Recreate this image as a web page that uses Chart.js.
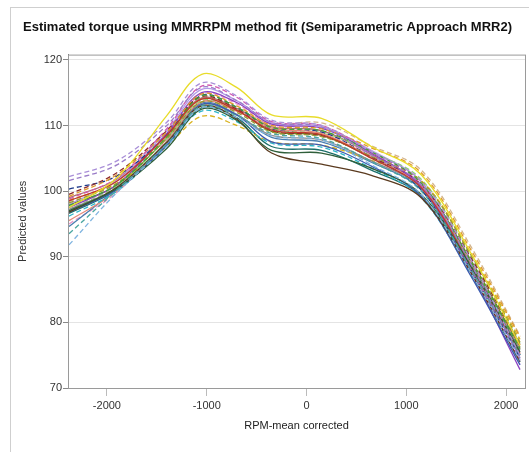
<!DOCTYPE html>
<html lang="en">
<head>
    <meta charset="UTF-8">
    <title>Estimated torque using MMRRPM method fit</title>
    <script src="https://cdn.jsdelivr.net/npm/chart.js"></script>
    <style>
        body {
            margin: 0;
            background: #fff;
            overflow: hidden;
        }
        .frame {
            position: absolute;
            left: 10px;
            top: 7px;
            width: 600px;
            height: 500px;
            border: 1px solid #cfcfcf;
        }
        canvas {
            position: absolute;
            left: 0;
            top: 0;
        }
    </style>
</head>
<body>
<div class="frame"></div>
<canvas id="torqueChart" width="529" height="452"></canvas>

<script>
    // RPM (mean corrected) positions of the fitted points
    const rpm = [-2380, -1900, -1400, -1050, -700, -350, 150, 650, 1150, 1650, 2140];
    const xTicks = [-2000, -1000, 0, 1000, 2000];
    const yTicks = [70, 80, 90, 100, 110, 120];

    // predicted torque per subject
    const fit01 = [97.5, 102.0, 111.5, 117.8, 115.8, 111.6, 111.1, 106.8, 102.5, 90.5, 76.5];
    const fit02 = [102.2, 104.6, 110.5, 116.5, 114.5, 110.8, 110.0, 106.0, 101.5, 89.5, 75.0];
    const fit03 = [101.6, 104.0, 110.0, 115.8, 113.8, 110.5, 109.8, 105.5, 101.0, 88.8, 74.5];
    const fit04 = [91.8, 99.8, 106.8, 112.7, 111.2, 108.4, 107.8, 104.0, 99.5, 87.5, 74.2];
    const fit05 = [93.5, 100.2, 107.2, 113.0, 111.5, 108.8, 108.0, 104.5, 100.0, 88.0, 75.0];
    const fit06 = [97.0, 100.4, 106.5, 112.5, 110.8, 106.2, 105.8, 103.5, 99.5, 88.5, 75.5];
    const fit07 = [96.8, 100.6, 107.4, 113.0, 111.0, 105.8, 104.1, 102.4, 99.0, 87.5, 74.0];
    const fit08 = [96.8, 100.3, 107.0, 113.2, 111.6, 107.5, 107.0, 103.8, 99.2, 87.0, 73.5];
    const fit09 = [98.5, 101.5, 108.5, 114.0, 112.3, 109.3, 108.6, 105.0, 100.5, 88.5, 75.2];
    const fit10 = [97.8, 101.0, 108.3, 114.5, 112.8, 109.7, 109.2, 106.0, 101.2, 89.2, 76.0];
    const fit11 = [98.8, 102.0, 109.5, 116.0, 114.3, 110.6, 110.0, 106.0, 101.0, 88.0, 74.2];
    const fit12 = [99.2, 102.5, 109.0, 114.8, 113.0, 110.0, 109.5, 106.6, 102.8, 91.0, 77.8];
    const fit13 = [98.2, 101.2, 108.0, 113.6, 112.0, 109.0, 108.3, 105.3, 101.5, 90.2, 77.0];
    const fit14 = [97.2, 100.5, 107.5, 113.2, 111.6, 108.5, 107.8, 104.6, 100.5, 88.8, 75.8];
    const fit15 = [97.5, 101.0, 108.8, 115.0, 113.5, 110.2, 109.6, 105.8, 100.6, 87.6, 72.8];
    const fit16 = [96.2, 100.0, 107.0, 112.2, 110.6, 107.3, 106.7, 103.5, 99.0, 87.2, 74.0];
    const fit17 = [99.5, 102.8, 109.2, 114.4, 112.5, 109.2, 108.4, 105.2, 101.0, 89.8, 76.6];
    const fit18 = [95.5, 100.0, 107.6, 113.6, 112.2, 109.6, 108.8, 105.2, 100.8, 89.0, 76.0];
    const fit19 = [100.3, 102.3, 108.6, 114.6, 112.8, 109.5, 109.0, 105.2, 100.2, 87.8, 74.6];
    const fit20 = [98.6, 101.2, 106.8, 111.4, 110.0, 107.5, 107.0, 104.7, 101.6, 90.5, 77.4];
    const fit21 = [97.2, 100.8, 108.0, 113.8, 112.3, 109.4, 108.9, 105.9, 101.8, 90.0, 76.8];
    const fit22 = [94.6, 100.4, 107.4, 113.4, 111.7, 108.2, 107.5, 104.4, 100.2, 88.4, 75.0];
    const fit23 = [98.0, 101.6, 109.2, 115.5, 113.8, 110.4, 109.8, 106.2, 101.4, 88.6, 73.6];
    const fit24 = [99.0, 101.8, 108.6, 114.2, 112.6, 109.8, 109.2, 105.6, 100.8, 88.9, 75.4];
    const fit25 = [96.6, 100.2, 106.9, 112.7, 111.2, 106.8, 106.2, 103.2, 99.2, 88.0, 75.0];
    const fit26 = [98.4, 101.6, 108.4, 114.0, 112.6, 110.2, 110.4, 106.9, 103.2, 91.5, 78.0];
    const fit27 = [95.0, 99.8, 107.8, 114.8, 113.3, 110.0, 109.2, 105.4, 100.4, 88.2, 74.8];
    const fit28 = [97.9, 100.9, 108.1, 114.1, 112.4, 109.1, 108.5, 105.1, 100.9, 89.4, 76.2];

    const fits = [fit01, fit02, fit03, fit04, fit05, fit06, fit07, fit08, fit09, fit10,
        fit11, fit12, fit13, fit14, fit15, fit16, fit17, fit18, fit19, fit20,
        fit21, fit22, fit23, fit24, fit25, fit26, fit27, fit28];

    const colors = ['#e8dc2a', '#a98fd8', '#9a7cc8', '#7fb4e0', '#4aa6a0', '#2f5f3a', '#5a3a1e', '#3c5bb0',
        '#c0392b', '#3fa535', '#d05ab0', '#e09a2a', '#9a9a30', '#8c8c8c', '#8a3fc0', '#2bb5c8',
        '#8e2a2a', '#e58a7a', '#1f3a8a', '#d9b21c', '#8fd07a', '#4a7fb0', '#b49ae8', '#b07070',
        '#1d6f6a', '#d2b48c', '#e89ac8', '#6f7a20'];
    const dashed = [false, true, true, true, true, false, false, false,
        false, true, true, true, true, false, false, true,
        true, false, true, true, true, false, false, false,
        false, true, true, false];

    const frameBox = {
        id: 'frameBox',
        afterDraw(chart) {
            const a = chart.chartArea;
            const ctx = chart.ctx;
            ctx.save();
            ctx.strokeStyle = '#9a9a9a';
            ctx.lineWidth = 1;
            ctx.strokeRect(a.left + 0.5, a.top + 0.5, a.right - a.left, a.bottom - a.top);
            ctx.restore();
        }
    };

    const fontFamily = '"Liberation Sans", Arial, sans-serif';

    new Chart(document.getElementById('torqueChart'), {
        type: 'line',
        data: {
            datasets: fits.map((vals, i) => ({
                label: 'Subject ' + (i + 1),
                data: vals.map((v, j) => ({ x: rpm[j], y: v })),
                borderColor: colors[i],
                borderWidth: 1.3,
                borderDash: dashed[i] ? [5, 3] : [],
                pointRadius: 0,
                fill: false,
                tension: 0.35
            }))
        },
        options: {
            responsive: false,
            animation: false,
            layout: { padding: { left: 10, right: 4, top: 10, bottom: 4 } },
            scales: {
                x: {
                    type: 'linear',
                    min: -2390,
                    max: 2190,
                    afterBuildTicks: s => { s.ticks = xTicks.map(v => ({ value: v })); },
                    afterFit: s => { s.height = 60; },
                    grid: { drawOnChartArea: false, tickLength: 8, tickColor: '#bbbbbb' },
                    border: { color: '#777' },
                    ticks: {
                        color: '#333',
                        padding: 3,
                        callback: v => String(v),
                        font: { family: fontFamily, size: 11 }
                    },
                    title: {
                        display: true,
                        text: 'RPM-mean corrected',
                        color: '#222',
                        padding: { top: 15, bottom: 15 },
                        font: { family: fontFamily, size: 11 }
                    }
                },
                y: {
                    min: 70,
                    max: 120.8,
                    afterBuildTicks: s => { s.ticks = yTicks.map(v => ({ value: v })); },
                    afterFit: s => { s.width = 58; },
                    grid: { color: '#e4e4e4', tickLength: 5, tickColor: '#888' },
                    border: { color: '#777' },
                    ticks: {
                        color: '#333',
                        padding: 1,
                        font: { family: fontFamily, size: 11 }
                    },
                    title: {
                        display: true,
                        text: 'Predicted values',
                        color: '#333',
                        padding: { top: 6, bottom: 6 },
                        font: { family: fontFamily, size: 11 }
                    }
                }
            },
            plugins: {
                legend: { display: false },
                tooltip: { enabled: false },
                title: {
                    display: true,
                    text: 'Estimated torque using MMRRPM method fit (Semiparametric Approach MRR2)',
                    color: '#111',
                    padding: { top: 10, bottom: 19 },
                    font: { family: fontFamily, size: 13, weight: 'bold' }
                }
            }
        },
        plugins: [frameBox]
    });
</script>
</body>
</html>
